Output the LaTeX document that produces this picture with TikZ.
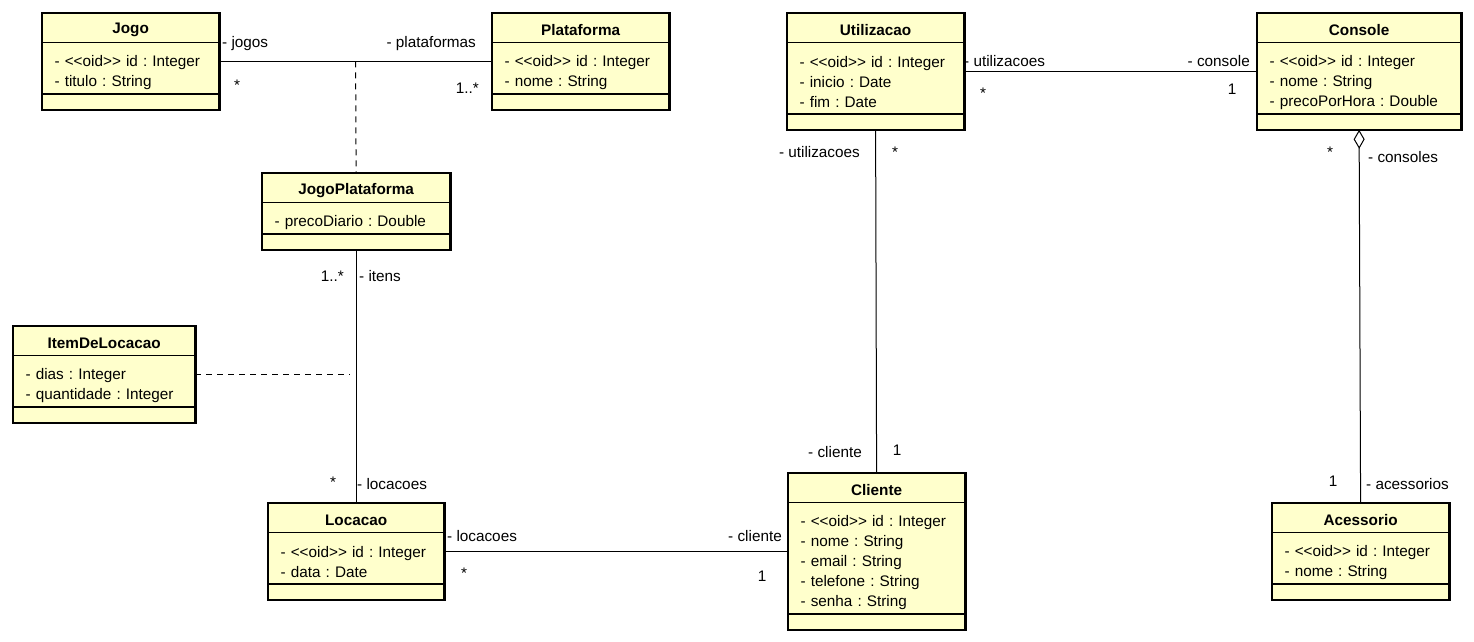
\documentclass[tikz,border=0pt]{standalone}
\usepackage{fontspec}
\setmainfont{Liberation Sans}
\usepackage{xcolor}
\usepackage{tikz}
\usetikzlibrary{positioning,shapes,arrows.meta,calc}
\frenchspacing
\definecolor{clsfill}{RGB}{255,255,204}
\tikzstyle{cls} = [rectangle split, rectangle split parts=3, draw, line width=1.2pt, fill=clsfill, inner xsep=12pt, inner ysep=0pt, anchor=north west, font=\fontsize{15.3}{20}\selectfont]
\tikzstyle{lbl} = [inner sep=0pt, font=\fontsize{15.3}{20}\selectfont]
\tikzstyle{line} = [draw, line width=1pt]
\tikzstyle{link} = [draw, line width=1pt, dash pattern=on 6pt off 5pt]
\tikzstyle{aggr} = [draw, line width=1pt, -{Diamond[open, length=19pt, width=11pt]}]
\newcommand{\ctitle}[1]{\parbox[c][28pt][c]{\linewidth}{\vspace*{4pt}\centering\bfseries #1}}
\newcommand{\cattr}[2]{\parbox[c][#1][c]{\linewidth}{\vspace*{8pt}#2}}
\newcommand{\cnone}{\parbox[c][14pt]{\linewidth}{}}

\begin{document}
\begin{tikzpicture}[x=1pt, y=-1pt]
        \useasboundingbox (0,0) rectangle (1474,642);
        % Place nodes
        \node at (42, 13) [cls, text width=152pt] (jogo) {\ctitle{Jogo}\nodepart{two}\cattr{50pt}{- <{}<oid>{}> id : Integer\\- titulo : String}\nodepart{three}\cnone};
        \node at (492, 13) [cls, text width=152pt] (plataforma) {\ctitle{Plataforma}\nodepart{two}\cattr{50pt}{- <{}<oid>{}> id : Integer\\- nome : String}\nodepart{three}\cnone};
        \node at (262, 173) [cls, text width=163pt] (jogoplat) {\ctitle{JogoPlataforma}\nodepart{two}\cattr{30pt}{- precoDiario : Double}\nodepart{three}\cnone};
        \node at (13, 326) [cls, text width=157pt] (item) {\ctitle{ItemDeLocacao}\nodepart{two}\cattr{50pt}{- dias : Integer\\- quantidade : Integer}\nodepart{three}\cnone};
        \node at (268, 503) [cls, text width=151pt] (locacao) {\ctitle{Locacao}\nodepart{two}\cattr{50pt}{- <{}<oid>{}> id : Integer\\- data : Date}\nodepart{three}\cnone};
        \node at (788, 473) [cls, text width=152pt] (cliente) {\ctitle{Cliente}\nodepart{two}\cattr{110pt}{- <{}<oid>{}> id : Integer\\- nome : String\\- email : String\\- telefone : String\\- senha : String}\nodepart{three}\cnone};
        \node at (787, 13) [cls, text width=152pt] (utilizacao) {\ctitle{Utilizacao}\nodepart{two}\cattr{70pt}{- <{}<oid>{}> id : Integer\\- inicio : Date\\- fim : Date}\nodepart{three}\cnone};
        \node at (1257, 13) [cls, text width=179pt] (console) {\ctitle{Console}\nodepart{two}\cattr{70pt}{- <{}<oid>{}> id : Integer\\- nome : String\\- precoPorHora : Double}\nodepart{three}\cnone};
        \node at (1272, 503) [cls, text width=152pt] (acessorio) {\ctitle{Acessorio}\nodepart{two}\cattr{50pt}{- <{}<oid>{}> id : Integer\\- nome : String}\nodepart{three}\cnone};
        \foreach \c in {jogo,plataforma,jogoplat,item,locacao,cliente,utilizacao,console,acessorio}
            \draw [line width=2.6pt] (\c.north west) rectangle (\c.south east);

        % Draw edges
        \path [line] (jogo.east) -- (plataforma.west);
        \coordinate (jpmid) at ($(jogo.east)!0.5!(plataforma.west)$);
        \path [link] (jpmid) -- (jogoplat.north);
        \path [line] (jogoplat.south) -- (locacao.north);
        \coordinate (itmid) at ($(jogoplat.south)!0.5!(locacao.north)$);
        \path [link, shorten >=6pt] (item.east) -- (item.east -| itmid);
        \path [line] (locacao.east) -- (cliente.west);
        \path [line] (utilizacao.east) -- (console.west);
        \path [line] (utilizacao.south) -- (cliente.north);
        \path [aggr] (acessorio.north) -- (console.south);

        % Role names and multiplicities
        \node at (222, 44) [lbl, anchor=west] (rJogos) {- jogos};
        \node at (237, 85) [lbl] (mJogos) {*};
        \node at (476, 44) [lbl, anchor=east] (rPlat) {- plataformas};
        \node at (479, 88) [lbl, anchor=east] (mPlat) {1..*};
        \node at (344, 276) [lbl, anchor=east] (mItens) {1..*};
        \node at (359, 276) [lbl, anchor=west] (rItens) {- itens};
        \node at (333, 482) [lbl] (mLoc) {*};
        \node at (357, 484) [lbl, anchor=west] (rLoc) {- locacoes};
        \node at (447, 536) [lbl, anchor=west] (rLocCli) {- locacoes};
        \node at (464, 573) [lbl] (mLocCli) {*};
        \node at (782, 536) [lbl, anchor=east] (rCliLoc) {- cliente};
        \node at (762, 576) [lbl] (mCliLoc) {1};
        \node at (964, 61) [lbl, anchor=west] (rUtil) {- utilizacoes};
        \node at (983, 93) [lbl] (mUtil) {*};
        \node at (1250, 61) [lbl, anchor=east] (rCons) {- console};
        \node at (1232, 89) [lbl] (mCons) {1};
        \node at (860, 152) [lbl, anchor=east] (rUtilCli) {- utilizacoes};
        \node at (895, 152) [lbl] (mUtilCli) {*};
        \node at (862, 452) [lbl, anchor=east] (rCliUtil) {- cliente};
        \node at (897, 450) [lbl] (mCliUtil) {1};
        \node at (1330, 152) [lbl] (mConsAc) {*};
        \node at (1368, 157) [lbl, anchor=west] (rConsAc) {- consoles};
        \node at (1333, 481) [lbl] (mAcess) {1};
        \node at (1366, 484) [lbl, anchor=west] (rAcess) {- acessorios};
\end{tikzpicture}
\end{document}
